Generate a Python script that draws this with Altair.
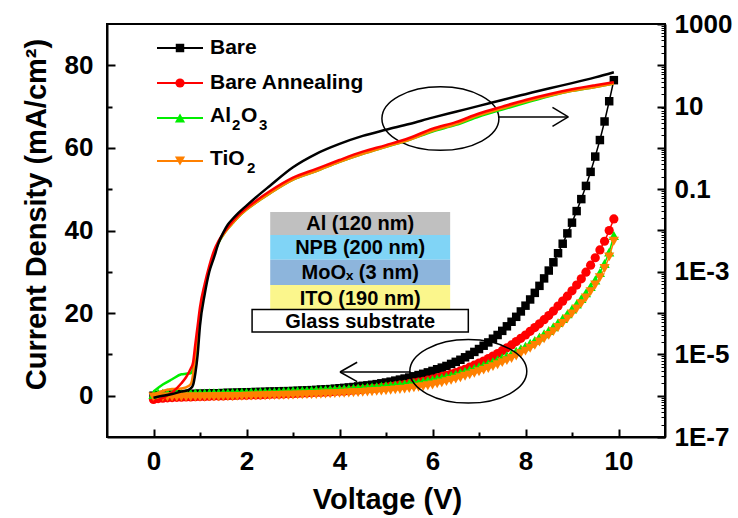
import altair as alt
import pandas as pd

FONT = "Liberation Sans"

# ---------------- data ----------------
VOLTAGE = [0.0, 0.1, 0.2, 0.3, 0.4, 0.5, 0.6, 0.7, 0.8, 0.9,
           1.0, 1.1, 1.2, 1.3, 1.4, 1.5, 1.6, 1.7, 1.8, 1.9,
           2.0, 2.1, 2.2, 2.3, 2.4, 2.5, 2.6, 2.7, 2.8, 2.9,
           3.0, 3.1, 3.2, 3.3, 3.4, 3.5, 3.6, 3.7, 3.8, 3.9,
           4.0, 4.1, 4.2, 4.3, 4.4, 4.5, 4.6, 4.7, 4.8, 4.9,
           5.0, 5.1, 5.2, 5.3, 5.4, 5.5, 5.6, 5.7, 5.8, 5.9,
           6.0, 6.1, 6.2, 6.3, 6.4, 6.5, 6.6, 6.7, 6.8, 6.9,
           7.0, 7.1, 7.2, 7.3, 7.4, 7.5, 7.6, 7.7, 7.8, 7.9,
           8.0, 8.1, 8.2, 8.3, 8.4, 8.5, 8.6, 8.7, 8.8, 8.9,
           9.0, 9.1, 9.2, 9.3, 9.4, 9.5, 9.6, 9.7, 9.8, 9.9]

# linear current density (left axis, mA/cm2)
BARE_J = [0.0, 0.1, 0.15, 0.2, 0.25, 0.3, 0.35, 0.4, 0.4, 0.45,
          0.5, 0.5, 0.55, 0.6, 0.6, 0.65, 0.7, 0.7, 0.75, 0.8,
          0.8, 0.85, 0.9, 0.9, 0.95, 1.0, 1.0, 1.05, 1.1, 1.1,
          1.15, 1.2, 1.25, 1.3, 1.35, 1.4, 1.5, 1.55, 1.6, 1.7,
          1.8, 1.9, 2.0, 2.1, 2.25, 2.4, 2.5, 2.65, 2.8, 3.0,
          3.2, 3.4, 3.65, 3.9, 4.15, 4.4, 4.7, 5.0, 5.3, 5.65,
          6.0, 6.4, 6.8, 7.2, 7.7, 8.2, 8.7, 9.3, 9.9, 10.6,
          11.3, 12.1, 12.9, 13.8, 14.7, 15.7, 16.8, 17.9, 19.1, 20.4,
          21.8, 23.3, 24.9, 26.6, 28.4, 30.3, 32.3, 34.5, 36.8, 39.3,
          41.9, 44.7, 47.6, 50.8, 54.2, 57.9, 61.9, 66.4, 71.3, 76.4]
ANNEAL_J = [-0.9, -0.7, -0.6, -0.5, -0.45, -0.4, -0.35, -0.3, -0.3, -0.25,
            -0.2, -0.2, -0.15, -0.1, -0.1, -0.05, 0.0, 0.0, 0.05, 0.1,
            0.1, 0.15, 0.2, 0.2, 0.25, 0.3, 0.35, 0.35, 0.4, 0.45,
            0.5, 0.55, 0.6, 0.65, 0.7, 0.75, 0.8, 0.85, 0.9, 1.0,
            1.05, 1.1, 1.2, 1.3, 1.4, 1.5, 1.6, 1.7, 1.8, 1.95,
            2.1, 2.25, 2.4, 2.55, 2.7, 2.9, 3.1, 3.3, 3.5, 3.75,
            4.0, 4.3, 4.6, 4.9, 5.2, 5.6, 6.0, 6.4, 6.9, 7.4,
            7.9, 8.4, 9.0, 9.6, 10.2, 10.9, 11.6, 12.3, 13.1, 13.9,
            14.7, 15.6, 16.5, 17.4, 18.4, 19.4, 20.5, 21.7, 22.9, 24.1,
            25.4, 26.8, 28.3, 29.9, 31.6, 33.4, 35.3, 37.4, 40.0, 42.8]
AL2O3_J = [0.3, 0.6, 0.6, 0.65, 0.6, 0.65, 0.6, 0.65, 0.6, 0.65,
           0.65, 0.65, 0.7, 0.7, 0.7, 0.75, 0.75, 0.8, 0.8, 0.85,
           0.85, 0.9, 0.9, 0.95, 0.95, 1.0, 1.0, 1.05, 1.1, 1.15,
           1.2, 1.2, 1.25, 1.3, 1.35, 1.4, 1.45, 1.5, 1.55, 1.6,
           1.65, 1.7, 1.75, 1.8, 1.9, 1.95, 2.05, 2.1, 2.2, 2.3,
           2.4, 2.5, 2.6, 2.7, 2.85, 3.0, 3.15, 3.3, 3.45, 3.65,
           3.85, 4.1, 4.35, 4.6, 4.9, 5.2, 5.55, 5.9, 6.25, 6.6,
           7.0, 7.4, 7.8, 8.25, 8.7, 9.2, 9.7, 10.2, 10.8, 11.4,
           12.0, 12.7, 13.4, 14.2, 15.0, 15.8, 16.7, 17.7, 18.7, 19.8,
           21.0, 22.2, 23.5, 24.9, 26.4, 28.0, 29.8, 32.0, 34.8, 38.8]
TIO2_J = [-0.3, -0.3, -0.35, -0.3, -0.3, -0.3, -0.3, -0.3, -0.3, -0.3,
          -0.3, -0.3, -0.25, -0.25, -0.25, -0.2, -0.2, -0.2, -0.15, -0.15,
          -0.1, -0.1, -0.05, -0.05, 0.0, 0.0, 0.05, 0.05, 0.1, 0.1,
          0.15, 0.2, 0.2, 0.25, 0.3, 0.3, 0.35, 0.4, 0.45, 0.5,
          0.55, 0.6, 0.65, 0.7, 0.75, 0.8, 0.9, 0.95, 1.05, 1.1,
          1.2, 1.3, 1.4, 1.5, 1.6, 1.75, 1.9, 2.05, 2.2, 2.4,
          2.6, 2.85, 3.1, 3.4, 3.7, 4.0, 4.35, 4.7, 5.05, 5.4,
          5.8, 6.2, 6.6, 7.05, 7.5, 8.0, 8.5, 9.0, 9.6, 10.2,
          10.8, 11.5, 12.2, 13.0, 13.8, 14.6, 15.5, 16.5, 17.5, 18.6,
          19.8, 21.0, 22.3, 23.7, 25.2, 26.8, 28.6, 30.8, 33.6, 37.4]

# current density on the logarithmic right axis (mA/cm2)
LOG_VOLTAGE = [0.0, 0.2, 0.4, 0.6, 0.7, 0.8, 0.85, 0.9, 0.95, 1.0,
               1.1, 1.2, 1.3, 1.4, 1.5, 1.6, 1.7, 1.8, 2.0, 2.2,
               2.5, 3.0, 3.5, 4.0, 4.5, 5.0, 5.5, 6.0, 6.5, 7.0,
               7.5, 8.0, 8.5, 9.0, 9.5, 9.9]
BARE_LOG = [8.9e-7, 1.0e-6, 1.1e-6, 1.26e-6, 1.32e-6, 1.5e-6, 1.8e-6, 3.5e-6, 1.0e-5, 5.0e-5,
            2.8e-4, 1.0e-3, 2.2e-3, 5.0e-3, 8.9e-3, 1.4e-2, 1.9e-2, 2.5e-2, 4.0e-2, 6.3e-2,
            0.12, 0.34, 0.72, 1.25, 1.95, 2.75, 3.8, 5.4, 7.5, 10.4,
            14.5, 20.0, 27.5, 37.0, 51.0, 68.0]
ANNEAL_LOG = [7.1e-7, 8.9e-7, 1.2e-6, 2.0e-6, 2.8e-6, 4.5e-6, 6.3e-6, 1.8e-5, 5.0e-5, 1.4e-4,
              5.0e-4, 1.4e-3, 3.2e-3, 5.6e-3, 8.5e-3, 1.2e-2, 1.66e-2, 2.2e-2, 3.5e-2, 5.2e-2,
              8.9e-2, 0.19, 0.31, 0.51, 0.81, 1.17, 1.74, 2.9, 4.2, 6.8,
              10.0, 14.5, 20.0, 26.3, 33.0, 39.0]
AL2O3_LOG = [1.26e-6, 1.86e-6, 2.5e-6, 3.3e-6, 3.4e-6, 3.5e-6, 4.5e-6, 1.0e-5, 3.2e-5, 1.0e-4,
             3.8e-4, 1.17e-3, 2.75e-3, 5.1e-3, 7.9e-3, 1.12e-2, 1.5e-2, 2.0e-2, 3.2e-2, 4.7e-2,
             7.9e-2, 0.17, 0.275, 0.46, 0.72, 1.07, 1.58, 2.5, 3.6, 5.75,
             8.5, 12.3, 17.8, 24.0, 30.0, 36.3]
TIO2_LOG = [1.05e-6, 1.3e-6, 1.45e-6, 1.5e-6, 1.6e-6, 1.9e-6, 3.2e-6, 1.0e-5, 3.2e-5, 1.0e-4,
            4.0e-4, 1.2e-3, 2.8e-3, 5.2e-3, 7.9e-3, 1.12e-2, 1.5e-2, 2.0e-2, 3.2e-2, 4.7e-2,
            7.9e-2, 0.17, 0.275, 0.46, 0.72, 1.07, 1.58, 2.6, 3.8, 6.2,
            9.1, 13.2, 18.2, 24.0, 30.0, 36.3]

# legend text pieces: (text, x offset, font size, y offset)
SERIES_TEXT = [
    [("Bare", 0, 21, 0)],
    [("Bare Annealing", 0, 21, 0)],
    [("Al", 0, 21, 0), ("2", 22, 15, 9), ("O", 31, 21, 0), ("3", 49, 15, 9)],
    [("TiO", 0, 21, 0), ("2", 37, 15, 9)],
]
LIN_VALUES = [BARE_J, ANNEAL_J, AL2O3_J, TIO2_J]
LOG_VALUES = [BARE_LOG, ANNEAL_LOG, AL2O3_LOG, TIO2_LOG]
COLORS = ["#000000", "#ff0000", "#00ee00", "#ff8000"]
SHAPES = ["square", "circle", "triangle-up", "triangle-down"]
SIZES = [72, 85, 105, 105]

X_TICKS = [0, 1, 2, 3, 4, 5, 6, 7, 8, 9, 10]
LEFT_TICKS = [0, 10, 20, 30, 40, 50, 60, 70, 80]
RIGHT_TICKS = [m * 10.0 ** e for e in range(-7, 3) for m in range(1, 10)] + [1000.0]

# annotations (data coordinates of the left axis)
ELLIPSES = pd.DataFrame({"V": [6.17, 6.77], "J": [67.1, 5.9]})
ARROWS = pd.DataFrame({
    "V": [7.41, 8.92, 8.92, 5.53, 4.01, 4.01],
    "J": [67.5, 67.5, 67.5, 5.74, 5.74, 5.74],
    "V2": [8.92, 8.58, 8.58, 4.01, 4.38, 4.38],
    "J2": [67.5, 69.8, 65.2, 5.74, 8.1, 3.4],
})
INSET = pd.DataFrame({
    "label": ["Al (120 nm)", "NPB (200 nm)", "MoO\u2093 (3 nm)", "ITO (190 nm)", "Glass substrate"],
    "V": [2.51, 2.51, 2.51, 2.51, 2.12],
    "V2": [6.38, 6.38, 6.38, 6.38, 6.77],
    "J": [44.5, 38.9, 32.9, 26.8, 20.9],
    "J2": [38.9, 32.9, 26.8, 20.75, 15.4],
    "fill": ["#c0c0c0", "#80d4f6", "#8db5dc", "#fbf68c", "#ffffff"],
})
INSET["Vm"] = (INSET["V"] + INSET["V2"]) / 2
INSET["Jm"] = (INSET["J"] + INSET["J2"]) / 2

# ---------------- encodings ----------------
X_ENC = alt.X(
    "V:Q",
    scale=alt.Scale(domain=[-1, 11], nice=False, zero=False),
    axis=alt.Axis(
        values=X_TICKS, title="Voltage (V)",
        labelExpr="datum.value % 2 == 0 ? datum.label : ''",
        tickSize=alt.ExprRef("datum.value % 2 == 0 ? -8 : -5"),
        labelPadding=19, labelFlush=False, labelOverlap=False,
        titleX=280, titleY=62, titleBaseline="middle", titleAlign="center",
    ),
)
YL_ENC = alt.Y(
    "J:Q",
    scale=alt.Scale(domain=[-10, 90], nice=False, zero=False),
    axis=alt.Axis(
        values=LEFT_TICKS, title="Current Density (mA/cm\u00b2)",
        labelExpr="datum.value % 20 == 0 ? datum.label : ''",
        tickSize=alt.ExprRef("datum.value % 20 == 0 ? -8 : -5"),
        labelPadding=22, labelFlush=False, labelOverlap=False,
        titleX=-71, titleY=190, titleBaseline="middle", titleAlign="center",
    ),
)
DECADE = "abs(log(datum.value)/LN10 - round(log(datum.value)/LN10)) < 0.01"
EXP = "round(log(datum.value)/LN10)"
YR_ENC = alt.Y(
    "J:Q",
    scale=alt.Scale(type="log", domain=[1e-7, 1000], nice=False),
    axis=alt.Axis(
        orient="right", values=RIGHT_TICKS, title=None,
        labelExpr=f"({DECADE} && abs({EXP}) % 2 == 1) ? ({EXP} >= -1 ? '' + datum.value : '1E' + {EXP}) : ''",
        tickSize=alt.ExprRef(f"{DECADE} ? -8 : -4"),
        tickWidth=alt.ExprRef(f"{DECADE} ? 2 : 1"),
        labelPadding=17, labelFlush=False, labelOverlap=False,
    ),
)

# ---------------- left (linear) group ----------------
left_layers = []
for vals, color, shape, size in zip(LIN_VALUES, COLORS, SHAPES, SIZES):
    d = pd.DataFrame({"V": VOLTAGE, "J": vals})
    base = alt.Chart(d).encode(x=X_ENC, y=YL_ENC)
    left_layers.append(base.mark_line(color=color, strokeWidth=1.5))
    left_layers.append(base.mark_point(shape=shape, filled=True, size=size,
                                       color=color, opacity=1))

ellipse_path = ("M -1 0 C -1 -0.3 -0.552 -0.543 0 -0.543 C 0.552 -0.543 1 -0.3 1 0 "
                "C 1 0.3 0.552 0.543 0 0.543 C -0.552 0.543 -1 0.3 -1 0 Z")
left_layers.append(
    alt.Chart(ELLIPSES).mark_point(shape=ellipse_path, size=117 ** 2, filled=False,
                                   stroke="black", strokeWidth=1.5, opacity=1)
    .encode(x=X_ENC, y=YL_ENC)
)
left_layers.append(
    alt.Chart(ARROWS).mark_rule(color="black", strokeWidth=1.5)
    .encode(x=X_ENC, y=YL_ENC, x2="V2:Q", y2="J2:Q")
)
left_layers.append(
    alt.Chart(INSET).mark_rect(stroke=None)
    .encode(x=X_ENC, y=YL_ENC, x2="V2:Q", y2="J2:Q",
            fill=alt.Fill("fill:N", scale=None))
)
left_layers.append(
    alt.Chart(INSET[INSET["label"] == "Glass substrate"]).mark_rect(
        fill="white", stroke="black", strokeWidth=1.5)
    .encode(x=X_ENC, y=YL_ENC, x2="V2:Q", y2="J2:Q")
)
left_layers.append(
    alt.Chart(INSET).mark_text(font=FONT, fontSize=20, fontWeight="bold",
                               color="black", baseline="middle", dy=1)
    .encode(x=alt.X("Vm:Q"), y=alt.Y("Jm:Q"), text="label:N")
)

# legend (top-left inside the frame)
one = pd.DataFrame({"a": [0]})
LEG_Y = [24, 59, 94, 137]
for pieces, color, shape, size, ly in zip(SERIES_TEXT, COLORS, SHAPES, SIZES, LEG_Y):
    left_layers.append(alt.Chart(one).mark_rule(color=color, strokeWidth=2).encode(
        x=alt.value(50), x2=alt.value(96), y=alt.value(ly)))
    left_layers.append(alt.Chart(one).mark_point(shape=shape, filled=True, size=size,
                                                 color=color, opacity=1).encode(
        x=alt.value(73), y=alt.value(ly)))
    for txt, dx, fs, dy in pieces:
        left_layers.append(alt.Chart(one).mark_text(
            text=txt, font=FONT, fontSize=fs, fontWeight="bold", color="black",
            align="left", baseline="middle", dx=dx, dy=dy).encode(
            x=alt.value(103), y=alt.value(ly - 2 if len(pieces) > 1 else ly)))

left = alt.layer(*left_layers)

# ---------------- right (log) group ----------------
right_layers = []
for vals, color in zip(LOG_VALUES, COLORS):
    d = pd.DataFrame({"V": LOG_VOLTAGE, "J": vals})
    right_layers.append(alt.Chart(d).mark_line(color=color, strokeWidth=2.5,
                                               interpolate="monotone")
                        .encode(x=X_ENC, y=YR_ENC))
# draw order: green, orange, red, black
right = alt.layer(right_layers[2], right_layers[3], right_layers[1], right_layers[0])

chart = (
    alt.layer(left, right)
    .resolve_scale(y="independent")
    .properties(width=558, height=413,
                autosize=alt.AutoSizeParams(type="none"),
                padding={"left": 107, "top": 24, "right": 73, "bottom": 81})
    .configure_view(stroke="black", strokeWidth=2)
    .configure_axis(
        domainColor="black", domainWidth=2, tickColor="black", tickWidth=2,
        grid=False, labelColor="black", titleColor="black",
        labelFont=FONT, labelFontSize=26, labelFontWeight="bold",
        titleFont=FONT, titleFontSize=29, titleFontWeight="bold",
    )
)

chart.save("out.html", embed_options={"renderer": "svg", "actions": False})
